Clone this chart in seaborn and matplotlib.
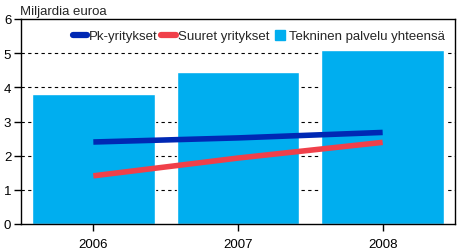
import numpy as np
import pandas as pd
import matplotlib
matplotlib.use("Agg")
import matplotlib.pyplot as plt
import seaborn as sns
from matplotlib.lines import Line2D

years = ["2006", "2007", "2008"]
total = [3.80, 4.45, 5.10]
pk = [2.40, 2.52, 2.68]
suuret = [1.41, 1.93, 2.39]
y_ticks = [0, 1, 2, 3, 4, 5, 6]

bar_color = "#00AEEF"
pk_color = "#0028B4"
su_color = "#F0404A"

sns.set_style("white")
plt.rcParams["font.family"] = ["Liberation Sans", "DejaVu Sans"]

fig = plt.figure(figsize=(4.58, 2.51), dpi=100)
ax = fig.add_axes([21 / 458, 1 - 225 / 251, 434 / 458, 205 / 251])

df = pd.DataFrame({"year": years, "total": total, "pk": pk, "suuret": suuret})
df["pos"] = np.arange(len(years))

for yv in y_ticks[1:-1]:
    ax.axhline(yv, color="black", linestyle=(0, (3, 3)), linewidth=0.8, zorder=0)

sns.barplot(data=df, x="year", y="total", color=bar_color, width=0.85,
            saturation=1, ax=ax, zorder=2)
sns.lineplot(data=df, x="pos", y="pk", color=pk_color, linewidth=4, ax=ax,
             zorder=3, solid_capstyle="butt")
sns.lineplot(data=df, x="pos", y="suuret", color=su_color, linewidth=4, ax=ax,
             zorder=3, solid_capstyle="butt")

ax.set_xlim(-0.5, 2.5)
ax.set_ylim(0, 6)
ax.set_xticks(range(len(years)))
ax.set_xticklabels(years)
ax.set_yticks(y_ticks)
ax.set_xlabel("")
ax.set_ylabel("")
ax.tick_params(axis="both", labelsize=9.5, length=5, width=1, direction="out",
               colors="black", pad=2)
ax.tick_params(axis="x", pad=5)
ax.tick_params(left=True, bottom=True)
for s in ax.spines.values():
    s.set_color("black")
    s.set_linewidth(1)
    s.set_visible(True)

fig.text(20 / 458, 1 - 12 / 251, "Miljardia euroa", fontsize=9.5,
         ha="left", va="center")

handles = [
    Line2D([0], [0], color=pk_color, linewidth=4.5, solid_capstyle="round"),
    Line2D([0], [0], color=su_color, linewidth=4.5, solid_capstyle="round"),
    Line2D([0], [0], color=bar_color, marker="s", markersize=7.5, linestyle="none"),
]
labels = ["Pk-yritykset", "Suuret yritykset", "Tekninen palvelu yhteensä"]
ax.legend(handles, labels, loc="upper right", bbox_to_anchor=(0.995, 0.985), ncol=3,
          frameon=False, fontsize=9.5, handlelength=1.1, handletextpad=0.15,
          columnspacing=0.25, borderaxespad=0.2)

fig.savefig("out.png", dpi=100)
